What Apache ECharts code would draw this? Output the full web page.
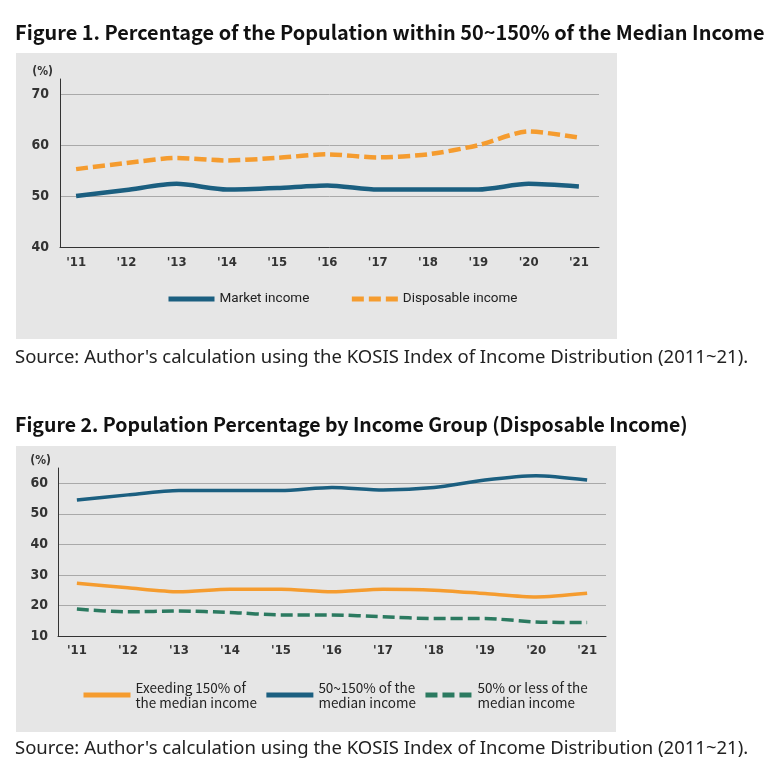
<!DOCTYPE html>
<html>
<head>
<meta charset="utf-8">
<script src="https://cdn.jsdelivr.net/npm/echarts@6/dist/echarts.min.js"></script>
<style>
  html, body { margin: 0; padding: 0; background: #fff; }
  #main { width: 782px; height: 781px; }
</style>
</head>
<body>
<div id="main"></div>
<script>
// data
var years = [2011, 2012, 2013, 2014, 2015, 2016, 2017, 2018, 2019, 2020, 2021];
var yearLabels = ["'11", "'12", "'13", "'14", "'15", "'16", "'17", "'18", "'19", "'20", "'21"];

// Figure 1
var marketIncome = [50.0, 51.2, 52.4, 51.3, 51.6, 52.1, 51.3, 51.3, 51.3, 52.4, 51.9];
var disposableIncome = [55.3, 56.5, 57.5, 57.0, 57.5, 58.2, 57.6, 58.2, 60.0, 62.7, 61.5];

// Figure 2
var over150 = [27.3, 25.8, 24.5, 25.3, 25.3, 24.5, 25.3, 25.0, 23.9, 22.8, 24.0];
var mid50to150 = [54.5, 56.2, 57.6, 57.6, 57.6, 58.6, 57.8, 58.6, 61.1, 62.5, 61.1];
var under50 = [18.8, 17.9, 18.2, 17.7, 16.9, 16.9, 16.3, 15.7, 15.7, 14.6, 14.4];

var BLUE = '#1b5f80', ORANGE = '#f59c2f', GREEN = '#2b7a60';
var tickFont = "'Liberation Sans Narrow', 'DejaVu Sans Condensed', Roboto, sans-serif";
var krFont = "'Noto Sans CJK KR', 'Noto Sans', sans-serif";
var srcFont = "'Noto Sans', sans-serif";

var pairs = function (vals) {
    return vals.map(function (v, i) { return [years[i], v]; });
};

var makeX = function (idx, min, max, margin) {
    return {
        type: 'value', gridIndex: idx, min: min, max: max,
        axisLine: { show: true, onZero: false, lineStyle: { color: '#333', width: 1 } },
        axisTick: { show: false },
        splitLine: { show: false },
        axisLabel: {
            customValues: years, margin: margin,
            color: '#333', fontFamily: tickFont, fontWeight: 'bold', fontSize: 13,
            formatter: function (v) { return yearLabels[years.indexOf(Math.round(v))]; }
        }
    };
};

var makeY = function (idx, min, max, margin) {
    return {
        type: 'value', gridIndex: idx, min: min, max: max, interval: 10,
        name: '(%)', nameLocation: 'end', nameGap: 1,
        nameTextStyle: { color: '#333', fontFamily: tickFont, fontWeight: 'bold', fontSize: 12, align: 'right', padding: [0, 7, 0, 0] },
        axisLine: { show: true, lineStyle: { color: '#333', width: 1 } },
        axisTick: { show: false },
        splitLine: { show: true, showMaxLine: false, lineStyle: { color: '#a9a9a9', width: 1 } },
        axisLabel: {
            margin: margin, showMaxLabel: false,
            color: '#333', fontFamily: tickFont, fontWeight: 'bold', fontSize: 14,
            formatter: function (v) { return v % 10 === 0 ? v : ''; }
        }
    };
};

var line = function (name, idx, vals, color, width, dashed) {
    return {
        name: name, type: 'line', xAxisIndex: idx, yAxisIndex: idx,
        data: pairs(vals), symbol: 'none', smooth: 0.25,
        lineStyle: { color: color, width: width, type: dashed ? [12, 5] : 'solid', cap: 'butt', join: 'round' },
        itemStyle: { color: color }
    };
};

// hide the circle ECharts puts in the middle of a line legend icon
var noSymbol = { color: 'rgba(0,0,0,0)', borderColor: 'rgba(0,0,0,0)', borderWidth: 0 };

var chart = echarts.init(document.getElementById('main'));
var option = {
    animation: false,
    backgroundColor: '#fff',
    title: [
        { text: 'Figure 1. Percentage of the Population within 50~150% of the Median Income', left: 15, top: 22, padding: 0,
          textStyle: { fontFamily: krFont, fontWeight: 'bold', fontSize: 19.9, color: '#111' } },
        { text: "Source: Author's calculation using the KOSIS Index of Income Distribution (2011~21).", left: 15, top: 348, padding: 0,
          textStyle: { fontFamily: srcFont, fontWeight: 'normal', fontSize: 18.5, color: '#222' } },
        { text: 'Figure 2. Population Percentage by Income Group (Disposable Income)', left: 15, top: 415, padding: 0,
          textStyle: { fontFamily: krFont, fontWeight: 'bold', fontSize: 19.5, color: '#111' } },
        { text: "Source: Author's calculation using the KOSIS Index of Income Distribution (2011~21).", left: 15, top: 739, padding: 0,
          textStyle: { fontFamily: srcFont, fontWeight: 'normal', fontSize: 18.5, color: '#222' } }
    ],
    graphic: [
        { type: 'rect', z: -10, silent: true, shape: { x: 16, y: 53, width: 601, height: 286 }, style: { fill: '#e6e6e6' } },
        { type: 'rect', z: -10, silent: true, shape: { x: 16, y: 446, width: 600, height: 286 }, style: { fill: '#e6e6e6' } }
    ],
    grid: [
        { left: 60, right: 183, top: 79, bottom: 534 },
        { left: 58, right: 176, top: 468, bottom: 145 }
    ],
    xAxis: [makeX(0, 2010.68, 2021.4, 9), makeX(1, 2010.63, 2021.37, 8)],
    yAxis: [makeY(0, 40, 73, 11), makeY(1, 10, 65, 10)],
    legend: [
        { data: ['Market income', 'Disposable income'], left: 166, top: 292, padding: 0,
          itemWidth: 46, itemHeight: 14, itemGap: 40, itemStyle: noSymbol,
          lineStyle: { width: 5 },
          textStyle: { fontFamily: 'Roboto, sans-serif', fontSize: 13.5, color: '#222' } },
        { data: ['Exeeding 150% of\nthe median income', '50~150% of the\nmedian income', '50% or less of the\nmedian income'],
          left: 81, top: 680, padding: 0,
          itemWidth: 47, itemHeight: 14, itemGap: 7, itemStyle: noSymbol,
          lineStyle: { width: 5 },
          textStyle: { fontFamily: krFont, fontSize: 13.5, lineHeight: 15, color: '#222' } }
    ],
    series: [
        line('Market income', 0, marketIncome, BLUE, 4.5, false),
        line('Disposable income', 0, disposableIncome, ORANGE, 4.5, true),
        line('Exeeding 150% of\nthe median income', 1, over150, ORANGE, 3.5, false),
        line('50~150% of the\nmedian income', 1, mid50to150, BLUE, 3.5, false),
        line('50% or less of the\nmedian income', 1, under50, GREEN, 3.5, true)
    ]
};
chart.setOption(option);
</script>
</body>
</html>
